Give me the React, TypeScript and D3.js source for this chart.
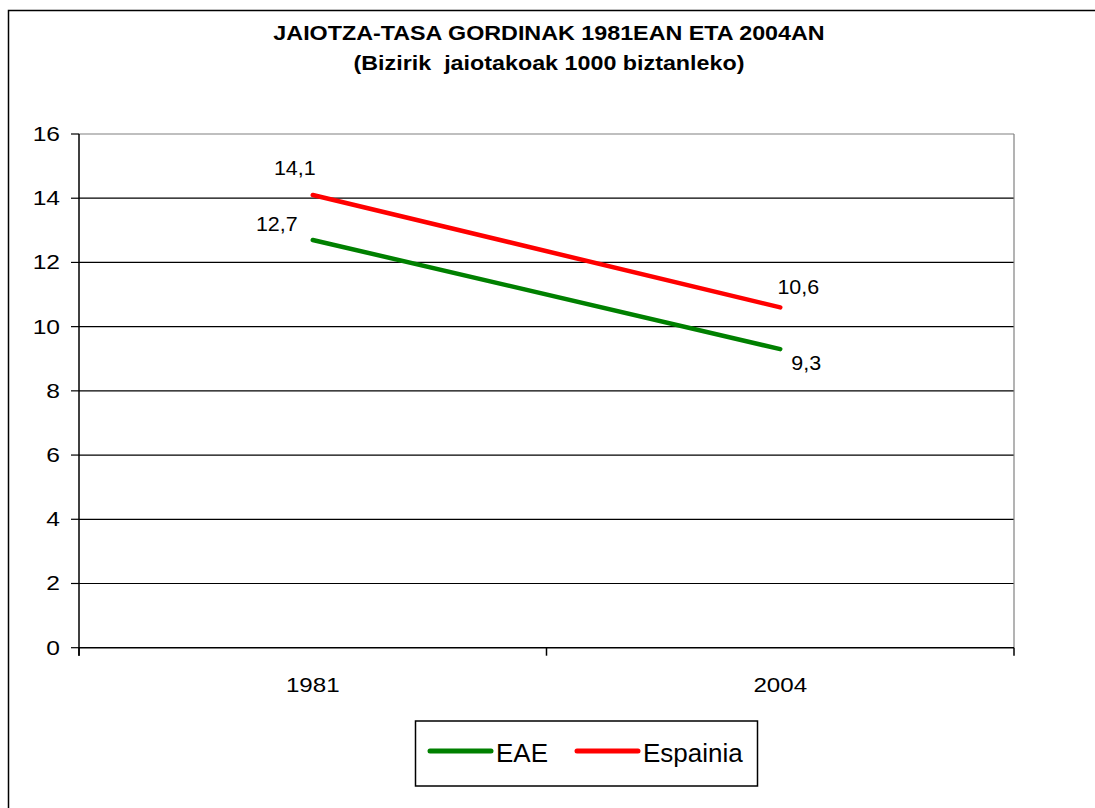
import React from "react";
import * as d3 from "d3";

const years = ["1981", "2004"];
const eae = [12.7, 9.3];
const espainia = [14.1, 10.6];
const yTicks = [0, 2, 4, 6, 8, 10, 12, 14, 16];
const seriesNames = ["EAE", "Espainia"];
const titleLines = ["JAIOTZA-TASA GORDINAK 1981EAN ETA 2004AN", "(Bizirik  jaiotakoak 1000 biztanleko)"];
const valueLabels = ["12,7", "9,3", "14,1", "10,6"];

const W = 1095;
const H = 808;
const plot = { left: 79, right: 1014, top: 134, bottom: 647.7 };
const colors = ["#008000", "#FF0000"];
const FONT = "Arial, 'Liberation Sans', sans-serif";
// label offsets (dx, baseline dy) relative to each point: [series][point]
const labelOffsets = [
  [[-36, -9], [26, 21]],
  [[-18, -20], [18, -13.5]],
];

export default function App() {
  const x = d3.scaleBand<string>().domain(years).range([plot.left, plot.right]);
  const y = d3.scaleLinear().domain([0, 16]).range([plot.bottom, plot.top]);
  const cx = (d: string) => (x(d) as number) + x.bandwidth() / 2;
  const series = [eae, espainia];
  const line = d3
    .line<number>()
    .x((_, i) => cx(years[i]))
    .y((v) => y(v));
  const xTickPos = [plot.left, ...years.map((d) => (x(d) as number) + x.bandwidth())];

  return (
    <svg
      width={W}
      height={H}
      style={{ position: "fixed", left: 0, top: 0, background: "#fff" }}
      fontFamily={FONT}
    >
      <rect x={0} y={0} width={W} height={H} fill="#fff" />
      <rect x={8.5} y={10.5} width={W + 20} height={H + 20} fill="none" stroke="#000" strokeWidth={1.5} />

      {titleLines.map((t, i) => (
        <text
          key={i}
          transform={`translate(${549},${40 + i * 30}) scale(1.12,1)`}
          textAnchor="middle"
          fontWeight="bold"
          fontSize={20.8}
          style={{ whiteSpace: "pre" }}
        >
          {t}
        </text>
      ))}

      {/* gridlines */}
      {yTicks.slice(1, -1).map((t) => (
        <line key={t} x1={plot.left} x2={plot.right} y1={y(t)} y2={y(t)} stroke="#000" strokeWidth={1.2} />
      ))}
      {/* plot border top/right */}
      <line x1={plot.left} x2={plot.right} y1={plot.top} y2={plot.top} stroke="#808080" strokeWidth={1.2} />
      <line x1={plot.right} x2={plot.right} y1={plot.top} y2={plot.bottom} stroke="#808080" strokeWidth={1.2} />

      {/* y axis */}
      <line x1={plot.left} x2={plot.left} y1={plot.top} y2={plot.bottom + 8} stroke="#000" strokeWidth={1.5} />
      {yTicks.map((t) => (
        <g key={t}>
          <line x1={plot.left - 8} x2={plot.left} y1={y(t)} y2={y(t)} stroke="#000" strokeWidth={1.2} />
          <text
            transform={`translate(${60},${y(t) + 7}) scale(1.2,1)`}
            textAnchor="end"
            fontSize={20.5}
          >
            {t}
          </text>
        </g>
      ))}

      {/* x axis */}
      <line x1={plot.left} x2={plot.right} y1={plot.bottom} y2={plot.bottom} stroke="#000" strokeWidth={1.5} />
      {xTickPos.map((p, i) => (
        <line key={i} x1={p} x2={p} y1={plot.bottom} y2={plot.bottom + 8} stroke="#000" strokeWidth={1.5} />
      ))}
      {years.map((d) => (
        <text key={d} transform={`translate(${cx(d)},${692}) scale(1.15,1)`} textAnchor="middle" fontSize={21}>
          {d}
        </text>
      ))}

      {/* lines */}
      {series.map((s, si) => (
        <path
          key={si}
          d={line(s) as string}
          fill="none"
          stroke={colors[si]}
          strokeWidth={4.5}
          strokeLinecap="round"
        />
      ))}

      {/* value labels */}
      {series.map((s, si) =>
        s.map((v, i) => (
          <text
            key={`${si}-${i}`}
            transform={`translate(${cx(years[i]) + labelOffsets[si][i][0]},${y(v) + labelOffsets[si][i][1]}) scale(1.1,1)`}
            textAnchor="middle"
            fontSize={19.5}
          >
            {valueLabels[si * 2 + i]}
          </text>
        ))
      )}

      {/* legend */}
      <rect x={415.5} y={721} width={342} height={65} fill="#fff" stroke="#000" strokeWidth={1.5} />
      {seriesNames.map((n, i) => {
        const lx = i === 0 ? 430 : 577;
        return (
          <g key={n}>
            <line x1={lx} x2={lx + 61} y1={751} y2={751} stroke={colors[i]} strokeWidth={5} strokeLinecap="round" />
            <text x={lx + 66} y={762} fontSize={26}>
              {n}
            </text>
          </g>
        );
      })}
    </svg>
  );
}
